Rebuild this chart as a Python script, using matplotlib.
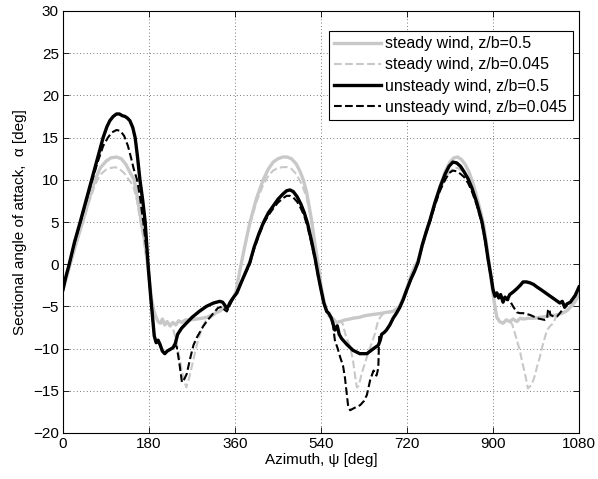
import numpy as np
import matplotlib.pyplot as plt

# steady wind, z/b = 0.5 (light grey, solid)
psi_s05 = [0, 8, 15, 28, 41, 54, 67, 78, 90, 100, 112, 122, 132, 140, 149, 157, 164, 170, 176, 180,
           185, 190, 195, 199, 204, 208, 213, 218, 224, 230, 236, 242, 248, 256, 266, 280, 290, 301, 312, 322,
           330, 336, 343, 350, 356, 362, 370, 380, 391, 405, 419, 430, 440, 450, 460, 469, 478, 488, 496, 503,
           510, 516, 521, 527, 534, 540, 546, 552, 558, 566, 573, 580, 590, 600, 607, 620, 632, 643, 657, 668,
           677, 691, 700, 705, 712, 719, 728, 736, 743, 752, 760, 768, 778, 789, 800, 810, 818, 826, 834, 842,
           850, 858, 866, 875, 881, 886, 892, 896, 900, 904, 908, 914, 921, 928, 935, 942, 950, 957, 963, 975,
           985, 998, 1010, 1022, 1034, 1045, 1055, 1063, 1071, 1076, 1080]
alpha_s05 = [-3.0, -1.4, 0.0, 2.6, 5.0, 7.6, 10.0, 11.4, 12.2, 12.6, 12.7, 12.5, 11.8, 10.9, 10.0, 7.5, 5.0, 3.0, 0.5, -1.5,
             -4.0, -5.5, -6.3, -6.8, -7.0, -6.5, -7.2, -6.8, -7.3, -6.9, -7.2, -6.7, -6.9, -6.6, -6.6, -6.5, -6.4, -6.3, -6.0, -5.7,
             -5.5, -5.1, -5.2, -4.5, -4.0, -3.3, -0.8, 2.0, 4.9, 7.8, 10.0, 11.3, 12.1, 12.5, 12.7, 12.7, 12.5, 11.9, 11.0, 10.0,
             8.5, 6.6, 4.9, 2.5, 0.0, -2.5, -4.4, -5.5, -6.2, -6.5, -6.9, -6.8, -6.6, -6.5, -6.4, -6.3, -6.1, -6.0, -5.9, -5.8,
             -5.7, -5.6, -5.2, -4.9, -4.0, -3.0, -1.4, -0.3, 0.4, 2.2, 3.8, 5.2, 7.2, 9.2, 11.0, 12.1, 12.6, 12.7, 12.4, 11.8,
             10.9, 9.6, 8.0, 6.0, 4.5, 2.5, 0.0, -1.8, -3.5, -5.0, -6.3, -6.8, -7.0, -6.6, -6.8, -6.5, -6.8, -6.4, -6.5, -6.4,
             -6.4, -6.3, -6.2, -6.1, -6.0, -5.8, -5.5, -5.0, -4.5, -4.0, -3.4]

# steady wind, z/b = 0.045 (light grey, dashed)
psi_s045 = [0, 8, 15, 28, 41, 54, 67, 78, 90, 100, 109, 118, 128, 138, 147, 155, 162, 169, 175, 180,
            185, 190, 195, 199, 204, 208, 213, 218, 224, 231, 237, 245, 252, 258, 264, 270, 275, 280, 286, 293,
            300, 312, 322, 330, 336, 343, 350, 356, 362, 370, 380, 391, 405, 419, 430, 440, 450, 460, 470, 478,
            488, 496, 503, 510, 516, 521, 527, 534, 540, 546, 552, 558, 566, 573, 580, 585, 592, 601, 607, 612,
            615, 619, 625, 632, 640, 646, 653, 659, 665, 670, 677, 691, 700, 705, 712, 719, 728, 736, 743, 752,
            760, 768, 778, 789, 800, 810, 818, 826, 834, 842, 850, 858, 866, 875, 881, 886, 892, 896, 900, 904,
            908, 914, 921, 928, 935, 940, 948, 956, 962, 967, 973, 981, 987, 992, 998, 1003, 1008, 1013, 1020, 1026,
            1032, 1040, 1045, 1055, 1063, 1071, 1076, 1080]
alpha_s045 = [-3.0, -1.4, 0.0, 2.5, 4.8, 7.3, 9.4, 10.6, 11.2, 11.4, 11.5, 11.3, 10.8, 10.0, 9.3, 7.5, 5.0, 3.0, 0.5, -1.5,
              -4.0, -5.5, -6.3, -6.8, -7.0, -6.5, -7.2, -6.8, -7.3, -7.8, -9.0, -11.5, -13.5, -14.6, -13.5, -12.0, -10.8, -9.6, -8.4, -7.3,
              -6.6, -6.2, -5.8, -5.5, -5.1, -5.2, -4.5, -4.0, -3.3, -0.9, 1.9, 4.7, 7.4, 9.4, 10.5, 11.1, 11.4, 11.5, 11.5, 11.3,
              10.7, 9.9, 9.0, 7.9, 6.3, 4.8, 2.4, 0.0, -2.5, -4.4, -5.5, -6.2, -6.5, -6.9, -6.8, -7.0, -8.5, -9.8, -11.4, -13.5,
              -14.6, -14.4, -13.0, -11.7, -10.3, -9.4, -8.2, -6.8, -6.2, -5.9, -5.7, -5.6, -5.2, -4.9, -4.1, -3.1, -1.5, -0.4, 0.3, 2.0,
              3.5, 4.9, 6.8, 8.7, 10.2, 11.0, 11.4, 11.4, 11.1, 10.6, 9.9, 8.9, 7.5, 5.8, 4.3, 2.4, 0.0, -1.8, -3.5, -5.0,
              -6.3, -6.8, -7.0, -6.6, -6.8, -7.1, -8.6, -10.2, -11.8, -13.0, -14.7, -14.3, -13.3, -12.2, -11.0, -9.8, -8.8, -7.8, -7.3, -7.0,
              -6.2, -5.9, -5.8, -5.5, -5.0, -4.5, -4.0, -3.4]

# unsteady wind, z/b = 0.5 (black, solid)
psi_u05 = [0, 6, 13, 24, 36, 48, 60, 72, 84, 92, 98, 105, 112, 118, 124, 130, 135, 140, 146, 151,
           156, 161, 167, 172, 175, 178, 183, 187, 191, 195, 199, 203, 208, 213, 218, 224, 230, 235, 240, 248,
           258, 270, 285, 300, 315, 328, 334, 338, 342, 346, 350, 356, 364, 372, 382, 391, 400, 410, 420, 430,
           440, 450, 460, 468, 475, 482, 490, 498, 505, 512, 520, 528, 534, 540, 546, 552, 556, 561, 565, 569,
           574, 578, 583, 594, 607, 621, 636, 650, 660, 664, 667, 672, 677, 684, 691, 698, 705, 712, 719, 728,
           736, 743, 752, 760, 768, 778, 789, 800, 808, 816, 824, 832, 840, 848, 856, 866, 877, 884, 890, 896,
           900, 904, 908, 912, 916, 921, 925, 930, 935, 942, 950, 957, 963, 970, 977, 985, 992, 1000, 1010, 1020,
           1030, 1040, 1045, 1050, 1055, 1062, 1067, 1072, 1076, 1080]
alpha_u05 = [-3.0, -1.5, 0.0, 2.6, 5.0, 7.5, 10.0, 12.5, 15.0, 16.3, 17.0, 17.5, 17.8, 17.8, 17.6, 17.5, 17.3, 17.0, 16.2, 15.0,
             12.7, 10.0, 7.5, 5.0, 2.5, 0.0, -3.5, -6.0, -8.5, -9.3, -9.0, -9.5, -10.3, -10.6, -10.3, -10.1, -9.9, -9.4, -8.3, -7.6,
             -7.0, -6.3, -5.6, -5.0, -4.6, -4.4, -4.5, -4.8, -5.2, -5.0, -4.5, -4.0, -3.4, -2.3, -1.0, 0.2, 2.0, 3.6, 5.0, 6.1,
             6.9, 7.7, 8.3, 8.7, 8.8, 8.6, 8.0, 7.1, 6.1, 4.8, 2.8, 0.6, -1.3, -3.0, -4.6, -5.6, -5.8, -6.3, -7.0, -7.8,
             -7.3, -8.3, -8.8, -9.5, -10.2, -10.6, -10.6, -10.0, -9.6, -9.0, -8.3, -8.1, -7.8, -7.2, -6.4, -5.8, -5.1, -4.2, -3.1, -1.8,
             -0.8, 0.2, 2.3, 3.8, 5.2, 7.2, 9.1, 10.7, 11.6, 12.1, 12.0, 11.6, 10.9, 10.1, 9.0, 7.3, 5.0, 2.8, 0.5, -1.5,
             -3.0, -3.8, -3.4, -4.0, -3.6, -4.5, -3.9, -4.2, -3.6, -3.3, -2.9, -2.5, -2.1, -2.1, -2.2, -2.4, -2.7, -3.0, -3.4, -3.8,
             -4.2, -4.6, -4.4, -5.1, -4.7, -4.5, -4.1, -3.7, -3.2, -2.7]

# unsteady wind, z/b = 0.045 (black, dashed)
psi_u045 = [0, 6, 13, 24, 36, 48, 60, 72, 84, 94, 102, 112, 120, 128, 136, 142, 148, 155, 161, 168,
            173, 178, 183, 187, 191, 195, 199, 203, 208, 213, 218, 224, 230, 235, 238, 243, 249, 254, 259, 266,
            273, 280, 287, 293, 303, 315, 324, 333, 338, 343, 348, 354, 360, 372, 382, 391, 400, 410, 420, 430,
            440, 450, 460, 468, 475, 482, 490, 498, 505, 512, 520, 528, 534, 540, 546, 552, 556, 561, 565, 569,
            575, 580, 586, 590, 597, 601, 611, 622, 630, 636, 643, 650, 656, 658, 660, 661, 662, 667, 672, 677,
            684, 691, 698, 705, 712, 719, 728, 736, 743, 752, 760, 768, 778, 789, 800, 808, 816, 824, 832, 840,
            848, 856, 866, 877, 884, 890, 896, 900, 904, 908, 912, 916, 921, 925, 930, 935, 942, 950, 956, 963,
            970, 977, 985, 992, 1000, 1008, 1013, 1015, 1018, 1020, 1027, 1034, 1040, 1044, 1050, 1055, 1062, 1067, 1072, 1076,
            1080]
alpha_u045 = [-3.0, -1.5, 0.0, 2.5, 4.9, 7.3, 9.7, 12.0, 14.0, 15.0, 15.6, 15.9, 15.8, 15.2, 14.0, 12.7, 11.3, 10.0, 8.0, 5.0,
              2.5, 0.0, -3.5, -6.0, -8.5, -9.3, -9.0, -9.5, -10.3, -10.6, -10.3, -10.1, -9.9, -9.6, -9.8, -11.5, -14.0, -13.6, -13.0, -11.2,
              -9.6, -8.7, -8.0, -7.4, -6.6, -5.8, -5.2, -5.0, -5.4, -5.6, -5.0, -4.3, -3.7, -2.3, -1.1, 0.0, 1.8, 3.4, 4.8, 5.8,
              6.6, 7.3, 7.8, 8.1, 8.1, 7.9, 7.4, 6.6, 5.7, 4.4, 2.5, 0.4, -1.4, -3.0, -4.6, -5.6, -5.8, -6.3, -7.2, -9.0,
              -10.0, -11.0, -12.0, -13.4, -16.9, -17.3, -17.0, -16.7, -16.2, -15.5, -13.7, -12.6, -13.2, -12.8, -12.2, -10.0, -8.4, -8.3, -8.1, -7.8,
              -7.2, -6.4, -5.8, -5.1, -4.2, -3.1, -1.8, -0.8, 0.2, 2.2, 3.7, 5.0, 6.9, 8.7, 10.0, 10.8, 11.1, 11.0, 10.7, 10.3,
              9.6, 8.6, 7.0, 4.8, 2.6, 0.4, -1.6, -3.0, -3.8, -3.4, -4.0, -3.6, -4.5, -3.9, -4.2, -4.3, -5.0, -5.7, -5.8, -5.8,
              -5.9, -6.0, -6.2, -6.4, -6.5, -6.6, -6.5, -5.5, -5.3, -6.0, -6.2, -6.2, -5.8, -5.5, -5.1, -4.7, -4.5, -4.1, -3.7, -3.2,
              -2.7]

x_ticks = [0, 180, 360, 540, 720, 900, 1080]
y_ticks = [-20, -15, -10, -5, 0, 5, 10, 15, 20, 25, 30]

plt.rcParams['font.family'] = ['Liberation Sans', 'DejaVu Sans']
plt.rcParams['font.size'] = 11

fig = plt.figure(figsize=(5.98, 4.79), dpi=100)
ax = fig.add_axes([63 / 598, 1 - 433 / 479, 516 / 598, 422 / 479])

light = '#c8c8c8'
ax.plot(psi_s05, alpha_s05, color=light, linewidth=2.4, label='steady wind, z/b=0.5')
ax.plot(psi_s045, alpha_s045, color=light, linewidth=1.5, linestyle='--', label='steady wind, z/b=0.045')
ax.plot(psi_u05, alpha_u05, color='black', linewidth=2.4, label='unsteady wind, z/b=0.5')
ax.plot(psi_u045, alpha_u045, color='black', linewidth=1.5, linestyle='--', label='unsteady wind, z/b=0.045')

ax.set_xlim(0, 1080)
ax.set_ylim(-20, 30)
ax.set_xticks(x_ticks)
ax.set_yticks(y_ticks)
ax.tick_params(direction='in', top=True, right=True, length=4, width=0.6, labelsize=11, pad=3)
ax.grid(True, color='0.3', linestyle=(0, (1, 3)), linewidth=0.6)
for s in ax.spines.values():
    s.set_linewidth(0.8)

ax.set_xlabel('Azimuth, \u03c8 [deg]', fontsize=11, labelpad=1)
ax.set_ylabel('Sectional angle of attack,  \u03b1 [deg]', fontsize=11, labelpad=4)

leg = ax.legend(loc='upper right', bbox_to_anchor=(0.988, 0.953), borderaxespad=0,
                fontsize=11.5, fancybox=False, framealpha=1, edgecolor='black',
                handlelength=2.9, handletextpad=0.3, labelspacing=0.38, borderpad=0.35)
leg.get_frame().set_linewidth(0.8)

fig.savefig('out.png', dpi=100)
